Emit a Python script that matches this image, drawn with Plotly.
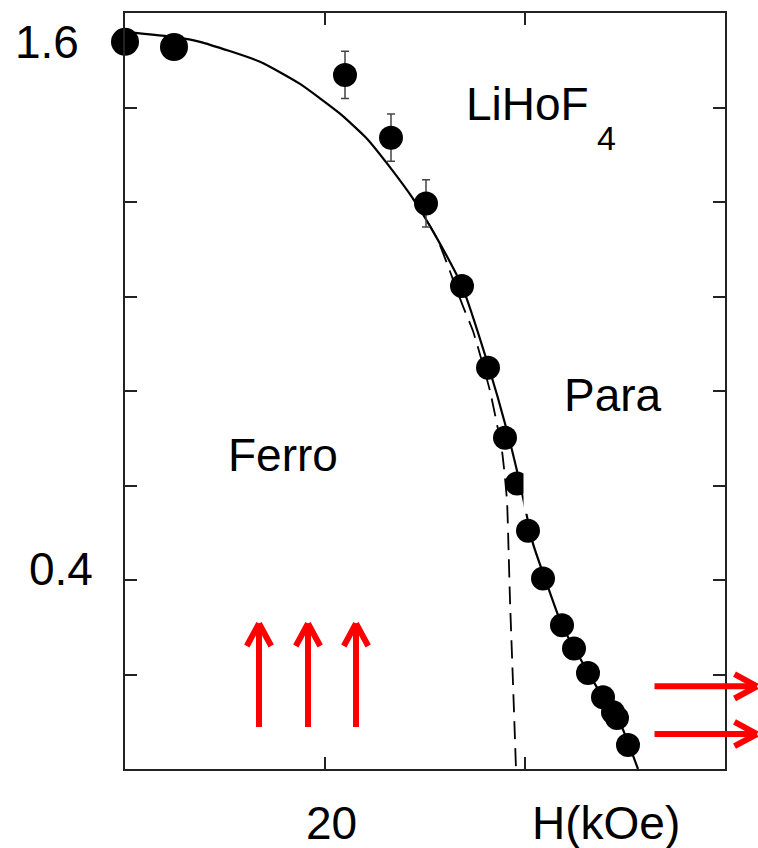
import plotly.graph_objects as go

# Measured ordering temperature of LiHoF4 versus transverse field
field_kOe = [0.0, 4.9, 22.0, 26.6, 30.1, 33.7, 36.3, 38.0, 39.2, 40.3,
             41.8, 43.7, 44.9, 46.3, 47.8, 48.8, 49.2, 50.3]
temp_K = [1.539, 1.528, 1.469, 1.336, 1.197, 1.022, 0.849, 0.701, 0.604, 0.504,
          0.403, 0.304, 0.255, 0.203, 0.152, 0.120, 0.108, 0.051]
temp_err = [0, 0, 0.05, 0.05, 0.05, 0, 0, 0, 0, 0,
            0, 0, 0, 0, 0, 0, 0, 0]
marker_px = [28, 28, 24, 24, 24, 24, 24, 24, 24, 24,
             24, 24, 24, 24, 24, 24, 24, 24]

# Full theory curve (solid)
theory_H = [0.0, 5.0, 7.5, 13.5, 17.5, 21.5, 24.2, 26.3, 28.8, 31.2, 33.7,
            36.2, 38.2, 39.5, 40.8, 42.0, 43.7, 46.3, 47.8, 49.3, 50.4, 51.3]
theory_T = [1.560, 1.549, 1.539, 1.497, 1.450, 1.387, 1.334, 1.279, 1.207, 1.123, 1.022,
            0.863, 0.716, 0.604, 0.477, 0.403, 0.304, 0.205, 0.152, 0.108, 0.051, 0.0]

# Mean-field curve without hyperfine coupling (dashed)
mf_H = [28.8, 31.2, 33.8, 34.8, 36.5, 37.7, 38.2, 38.35, 38.5, 38.8, 39.1]
mf_T = [1.207, 1.123, 0.979, 0.927, 0.800, 0.673, 0.568, 0.469, 0.357, 0.182, 0.0]

X_RANGE = [0, 60]
Y_RANGE = [0, 1.6]
x_tick_vals = [0, 20, 40, 60]
y_tick_vals = [0.0, 0.2, 0.4, 0.6, 0.8, 1.0, 1.2, 1.4, 1.6]

# Tick label texts and where they sit (data units)
y_label_text = ["1.6", "0.4"]
y_label_pos = [1.539, 0.423]
y_label_x = [-7.85, -6.4]
x_label_text = ["20", "H(kOe)"]
x_label_pos = [20.65, 48.1]
x_label_y = -0.114

# Spin-direction arrows: up (ferro) and along the field (para)
up_arrow_x = [13.4, 18.3, 23.1]
up_arrow_base, up_arrow_tip = 0.0865, 0.308
right_arrow_y = [0.175, 0.074]
right_arrow_base, right_arrow_tip = 52.8, 63.2

FONT = "Arial, Liberation Sans, sans-serif"
AXIS_COLOR = "#222222"
RED = "#ff0000"

PLOT_W = 758 - 125 - 33
PLOT_H = 848 - 11 - 79


def px(xv):
    """data x -> paper fraction"""
    return (xv - X_RANGE[0]) / (X_RANGE[1] - X_RANGE[0])


def py(yv):
    """data y -> paper fraction"""
    return (yv - Y_RANGE[0]) / (Y_RANGE[1] - Y_RANGE[0])


fig = go.Figure()

fig.add_trace(go.Scatter(
    x=theory_H, y=theory_T, mode="lines",
    line=dict(color="black", width=2.2, shape="spline", smoothing=0.5),
    hoverinfo="skip", showlegend=False))

fig.add_trace(go.Scatter(
    x=mf_H, y=mf_T, mode="lines",
    line=dict(color="black", width=1.8, dash="18px,9px", shape="spline", smoothing=0.5),
    hoverinfo="skip", showlegend=False))

# Error bars (only the points that carry them), drawn beneath the markers
err_idx = [i for i, e in enumerate(temp_err) if e > 0]
fig.add_trace(go.Scatter(
    x=[field_kOe[i] for i in err_idx], y=[temp_K[i] for i in err_idx],
    mode="markers", marker=dict(size=1, color="rgba(0,0,0,0)"),
    error_y=dict(type="data", array=[temp_err[i] for i in err_idx], visible=True,
                 color="#444444", thickness=1.5, width=4),
    hoverinfo="skip", showlegend=False))

fig.add_trace(go.Scatter(
    x=field_kOe, y=temp_K, mode="markers",
    marker=dict(color="black", size=marker_px, opacity=1, line=dict(width=0)),
    cliponaxis=False, showlegend=False))

annotations = []
for txt, yv, xv in zip(y_label_text, y_label_pos, y_label_x):
    annotations.append(dict(x=px(xv), y=py(yv), xref="paper", yref="paper", text=txt,
                            showarrow=False, xanchor="center", yanchor="middle",
                            font=dict(family=FONT, size=46, color="black")))
for txt, xv in zip(x_label_text, x_label_pos):
    annotations.append(dict(x=px(xv), y=py(x_label_y), xref="paper", yref="paper", text=txt,
                            showarrow=False, xanchor="center", yanchor="middle",
                            font=dict(family=FONT, size=46, color="black")))

# Region and compound labels
labels = [("LiHoF", 40.25, 1.408, 46), ("4", 48.1, 1.336, 34),
          ("Ferro", 15.75, 0.664, 46), ("Para", 48.75, 0.792, 46)]
for txt, xv, yv, fs in labels:
    annotations.append(dict(x=px(xv), y=py(yv), xref="paper", yref="paper", text=txt,
                            showarrow=False, xanchor="center", yanchor="middle",
                            font=dict(family=FONT, size=fs, color="black")))


def arrow_segment(x_tip, y_tip, dx_px, dy_px):
    """Thick red stroke ending at (x_tip, y_tip); tail offset given in pixels."""
    return dict(x=px(x_tip), y=py(y_tip), xref="paper", yref="paper",
                ax=dx_px, ay=dy_px, axref="pixel", ayref="pixel",
                text="", showarrow=True, arrowhead=0, arrowwidth=6,
                arrowcolor=RED, standoff=0, startstandoff=0)


WING_ALONG, WING_ACROSS = 24, 13
for xv in up_arrow_x:
    shaft_px = (up_arrow_tip - up_arrow_base) * PLOT_H / (Y_RANGE[1] - Y_RANGE[0])
    annotations.append(arrow_segment(xv, up_arrow_tip, 0, shaft_px))
    annotations.append(arrow_segment(xv, up_arrow_tip, -WING_ACROSS, WING_ALONG))
    annotations.append(arrow_segment(xv, up_arrow_tip, WING_ACROSS, WING_ALONG))

for yv in right_arrow_y:
    shaft_px = (right_arrow_tip - right_arrow_base) * PLOT_W / (X_RANGE[1] - X_RANGE[0])
    annotations.append(arrow_segment(right_arrow_tip, yv, -shaft_px, 0))
    annotations.append(arrow_segment(right_arrow_tip, yv, -WING_ALONG, -WING_ACROSS))
    annotations.append(arrow_segment(right_arrow_tip, yv, -WING_ALONG, WING_ACROSS))

# White panel behind the "Para" label
shapes = [dict(type="rect", xref="x", yref="y", x0=39.85, x1=56.0, y0=0.54, y1=1.02,
               fillcolor="white", line=dict(width=0), layer="above")]

axis_common = dict(showline=True, linecolor=AXIS_COLOR, linewidth=2, mirror="ticks",
                   ticks="inside", ticklen=12, tickwidth=2, tickcolor=AXIS_COLOR,
                   showgrid=False, zeroline=False, showticklabels=False)

fig.update_layout(
    width=758, height=848,
    margin=dict(l=125, r=33, t=11, b=79),
    paper_bgcolor="white", plot_bgcolor="white",
    xaxis=dict(range=X_RANGE, tickvals=x_tick_vals, **axis_common),
    yaxis=dict(range=Y_RANGE, tickvals=y_tick_vals, **axis_common),
    annotations=annotations, shapes=shapes,
    font=dict(family=FONT),
)

fig.write_html("out.html")
